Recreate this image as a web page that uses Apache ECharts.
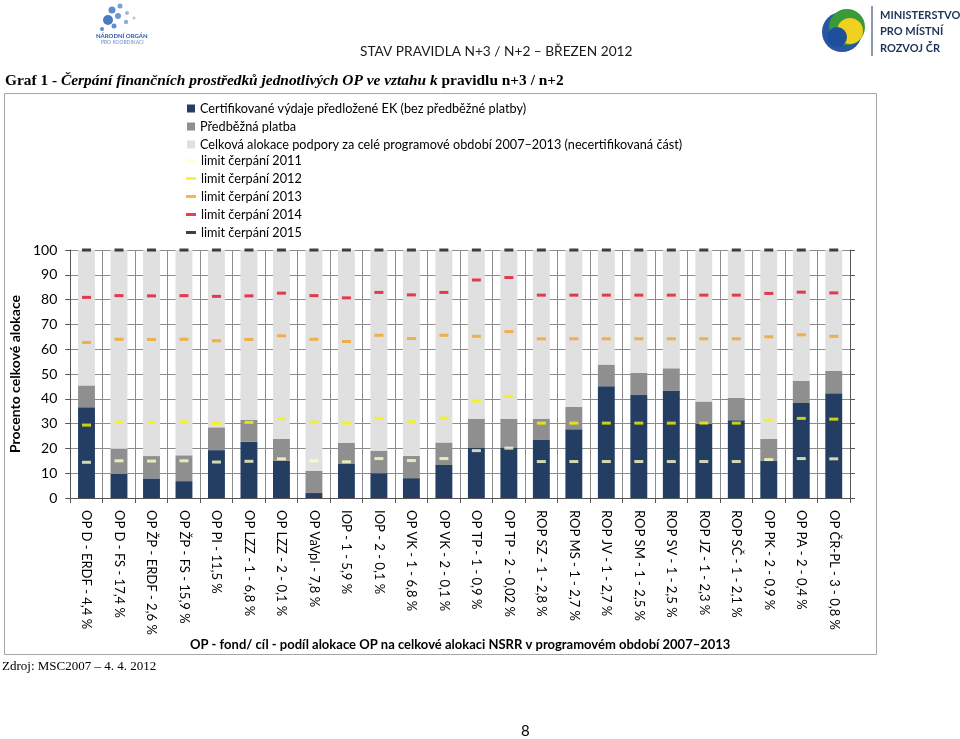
<!DOCTYPE html>
<html>
<head>
<meta charset="utf-8">
<script src="https://cdn.jsdelivr.net/npm/echarts@6/dist/echarts.min.js"></script>
<style>
html,body{margin:0;padding:0;background:#fff;}
#chart{width:960px;height:739px;}
</style>
</head>
<body>
<div id="chart"></div>
<script>
var categories = ['OP D - ERDF - 4,4 %','OP D - FS - 17,4 %','OP ŽP - ERDF - 2,6 %','OP ŽP - FS - 15,9 %','OP PI - 11,5 %','OP LZZ - 1 - 6,8 %','OP LZZ - 2 - 0,1 %','OP VaVpI - 7,8 %','IOP - 1 - 5,9 %','IOP - 2 - 0,1 %','OP VK - 1 - 6,8 %','OP VK - 2 - 0,1 %','OP TP - 1 - 0,9 %','OP TP - 2 - 0,02 %','ROP SZ - 1 - 2,8 %','ROP MS - 1 - 2,7 %','ROP JV - 1 - 2,7 %','ROP SM - 1 - 2,5 %','ROP SV - 1 - 2,5 %','ROP JZ - 1 - 2,3 %','ROP SČ - 1 - 2,1 %','OP PK - 2 - 0,9 %','OP PA - 2 - 0,4 %','OP ČR-PL - 3 - 0,8 %'];
var certified = [36.6, 9.7, 7.9, 6.8, 19.3, 22.7, 15.0, 2.0, 13.7, 10.0, 8.0, 13.3, 20.4, 20.4, 23.4, 27.7, 45.1, 41.5, 43.3, 29.9, 31.4, 15.1, 38.3, 42.2];
var advance = [8.8, 10.2, 9.0, 10.4, 9.2, 8.8, 8.9, 9.0, 8.5, 9.1, 9.0, 9.1, 11.6, 11.6, 8.6, 9.0, 8.7, 9.0, 9.0, 9.0, 9.0, 8.8, 9.0, 9.0];
var totalAllocation = 100;
var limit2011 = [14.4, 15.0, 14.9, 15.0, 14.5, 14.8, 15.8, 15.0, 14.6, 15.9, 15.1, 15.9, 19.1, 20.1, 14.7, 14.7, 14.7, 14.7, 14.7, 14.7, 14.7, 15.5, 15.9, 15.8];
var limit2012 = [29.4, 30.6, 30.5, 30.7, 30.1, 30.5, 32.0, 30.6, 30.2, 32.1, 30.7, 32.2, 39.1, 41.0, 30.2, 30.2, 30.2, 30.2, 30.2, 30.2, 30.2, 31.4, 32.1, 31.8];
var limit2013 = [62.7, 64.0, 63.9, 64.0, 63.4, 63.9, 65.4, 64.0, 63.1, 65.6, 64.3, 65.6, 65.2, 67.1, 64.2, 64.2, 64.2, 64.2, 64.2, 64.2, 64.2, 65.0, 65.8, 65.2];
var limit2014 = [80.9, 81.6, 81.5, 81.6, 81.3, 81.5, 82.6, 81.6, 80.7, 82.9, 81.9, 82.9, 87.9, 88.9, 81.8, 81.8, 81.8, 81.8, 81.8, 81.8, 81.8, 82.5, 83.0, 82.7];
var limit2015 = [100, 100, 100, 100, 100, 100, 100, 100, 100, 100, 100, 100, 100, 100, 100, 100, 100, 100, 100, 100, 100, 100, 100, 100];
var yTicks = [0, 10, 20, 30, 40, 50, 60, 70, 80, 90, 100];

var seriesNames = ['Certifikované výdaje předložené EK (bez předběžné platby)','Předběžná platba','Celková alokace podpory za celé programové období 2007–2013 (necertifikovaná část)','limit čerpání 2011','limit čerpání 2012','limit čerpání 2013','limit čerpání 2014','limit čerpání 2015'];
var remainder = certified.map(function(v, i){ return +(totalAllocation - v - advance[i]).toFixed(2); });

var FONT = 'Lato';
function marker(name, data, color){
  return {name:name, type:'scatter', data:data, symbol:'rect', symbolSize:[9,3], itemStyle:{color:color}, z:5, silent:true};
}

var chart = echarts.init(document.getElementById('chart'), null, {renderer:'canvas'});
var option = {
  backgroundColor:'#ffffff',
  animation:false,
  textStyle:{fontFamily:FONT},
  grid:{left:60, right:110, top:250, bottom:241},
  legend:[{
    data:[seriesNames[0], seriesNames[1], seriesNames[2]],
    orient:'vertical', left:187, top:102, padding:0, itemWidth:8, itemHeight:8, itemGap:5, icon:'rect',
    textStyle:{fontFamily:FONT, fontSize:12.7, color:'#000'}, selectedMode:false
  },{
    data:[seriesNames[3], seriesNames[4], seriesNames[5], seriesNames[6], seriesNames[7]],
    orient:'vertical', left:186, top:154, padding:0, itemWidth:10, itemHeight:3, itemGap:5, icon:'rect',
    textStyle:{fontFamily:FONT, fontSize:12.7, color:'#000'}, selectedMode:false
  }],
  xAxis:{
    type:'category', data:categories, boundaryGap:true,
    axisLine:{lineStyle:{color:'#555', width:1}},
    axisTick:{show:true, length:5, lineStyle:{color:'#555'}},
    splitLine:{show:true, lineStyle:{color:'#8c8c8c', width:1}},
    axisLabel:{rotate:-90, fontFamily:FONT, fontSize:13, color:'#000', margin:12, interval:0},
    name:'OP - fond/ cíl - podíl alokace OP na celkové alokaci NSRR v programovém období 2007–2013',
    nameLocation:'middle', nameGap:133,
    nameTextStyle:{fontFamily:FONT, fontSize:13, fontWeight:'bold', color:'#000'}
  },
  yAxis:[{
    type:'value', min:0, max:100, interval:10, position:'left',
    axisLine:{show:true, lineStyle:{color:'#555'}},
    axisTick:{show:true, length:5, lineStyle:{color:'#555'}},
    splitLine:{show:true, lineStyle:{color:'#8c8c8c', width:1}},
    axisLabel:{fontFamily:FONT, fontSize:14, color:'#000', margin:13,
      customValues:yTicks},
    name:'Procento celkové alokace', nameLocation:'middle', nameGap:40,
    nameTextStyle:{fontFamily:FONT, fontSize:14, fontWeight:'bold', color:'#000'}
  },{
    type:'value', min:0, max:100, interval:10, position:'right',
    axisLine:{show:true, lineStyle:{color:'#555'}},
    axisTick:{show:true, length:5, inside:false, lineStyle:{color:'#555'}},
    axisLabel:{show:false}, splitLine:{show:false}
  }],
  series:[
    {name:seriesNames[0], type:'bar', stack:'a', data:certified, barWidth:'52%', itemStyle:{color:'#233E62'}, z:2},
    {name:seriesNames[1], type:'bar', stack:'a', data:advance, barWidth:'52%', itemStyle:{color:'#8F8F8F'}, z:2},
    {name:seriesNames[2], type:'bar', stack:'a', data:remainder, barWidth:'52%', itemStyle:{color:'#E0E0E0'}, z:2},
    marker(seriesNames[3], limit2011, '#FFFFC4'),
    marker(seriesNames[4], limit2012, '#F5F500'),
    marker(seriesNames[5], limit2013, '#F2A324'),
    marker(seriesNames[6], limit2014, '#E0102A'),
    marker(seriesNames[7], limit2015, '#111111')
  ],
  graphic:[
    {type:'rect', shape:{x:4.5, y:93.5, width:872, height:561}, style:{fill:null, stroke:'#a6a6a6', lineWidth:1}, z:-1, silent:true},
    {type:'text', left:5, top:74, style:{
      text:'{n|Graf 1 - }{i|Čerpání finančních prostředků jednotlivých OP ve vztahu k}{n| pravidlu n+3 / n+2}',
      rich:{n:{fontFamily:'Liberation Serif', fontSize:15.4, fontWeight:'bold', fill:'#000'},
            i:{fontFamily:'Liberation Serif', fontSize:15.4, fontStyle:'italic', fontWeight:'bold', fill:'#000'}}
    }},
    {type:'text', left:2, top:660, style:{text:'Zdroj: MSC2007 – 4. 4. 2012', fontFamily:'Liberation Serif', fontSize:13, fill:'#000'}},
    {type:'text', left:521, top:724, style:{text:'8', fontFamily:FONT, fontSize:15, fill:'#000'}},
    {type:'text', left:360, top:45, style:{text:'STAV PRAVIDLA N+3 / N+2 – BŘEZEN 2012', fontFamily:FONT, fontSize:13.7, fill:'#1a1a1a'}},
    {type:'text', left:880, top:7, style:{text:'MINISTERSTVO\nPRO MÍSTNÍ\nROZVOJ ČR', fontFamily:FONT, fontSize:11, fontWeight:'bold', lineHeight:16.5, fill:'#1d3456'}},
    {type:'line', shape:{x1:872, y1:6, x2:872, y2:56}, style:{stroke:'#1d3456', lineWidth:1}},
    {type:'circle', shape:{cx:842, cy:32, r:20}, style:{fill:'#2a55a0'}},
    {type:'circle', shape:{cx:847, cy:27, r:18}, style:{fill:'#3a9a3a'}},
    {type:'circle', shape:{cx:850, cy:31, r:13}, style:{fill:'#f0d020'}},
    {type:'circle', shape:{cx:837, cy:37, r:10}, style:{fill:'#1d4f9c'}},
    {type:'circle', shape:{cx:108, cy:20, r:5}, style:{fill:'#4a7bc0'}},
    {type:'circle', shape:{cx:112, cy:10, r:3.5}, style:{fill:'#5e8ccc'}},
    {type:'circle', shape:{cx:120, cy:6, r:2.5}, style:{fill:'#7aa0d6'}},
    {type:'circle', shape:{cx:118, cy:16, r:3}, style:{fill:'#6d96d0'}},
    {type:'circle', shape:{cx:127, cy:13, r:2}, style:{fill:'#9cb8e0'}},
    {type:'circle', shape:{cx:126, cy:22, r:2.2}, style:{fill:'#8eaedc'}},
    {type:'circle', shape:{cx:134, cy:18, r:1.5}, style:{fill:'#b0c6e6'}},
    {type:'circle', shape:{cx:114, cy:26, r:2.5}, style:{fill:'#5e8ccc'}},
    {type:'circle', shape:{cx:102, cy:29, r:2}, style:{fill:'#5e8ccc'}},
    {type:'text', left:96, top:33, style:{text:'NÁRODNÍ ORGÁN', fontFamily:FONT, fontSize:6, fontWeight:'bold', fill:'#2a55a0'}},
    {type:'text', left:101, top:40, style:{text:'PRO KOORDINACI', fontFamily:FONT, fontSize:5, fill:'#6a8cc8'}}
  ]
};
chart.setOption(option);
</script>
</body>
</html>
